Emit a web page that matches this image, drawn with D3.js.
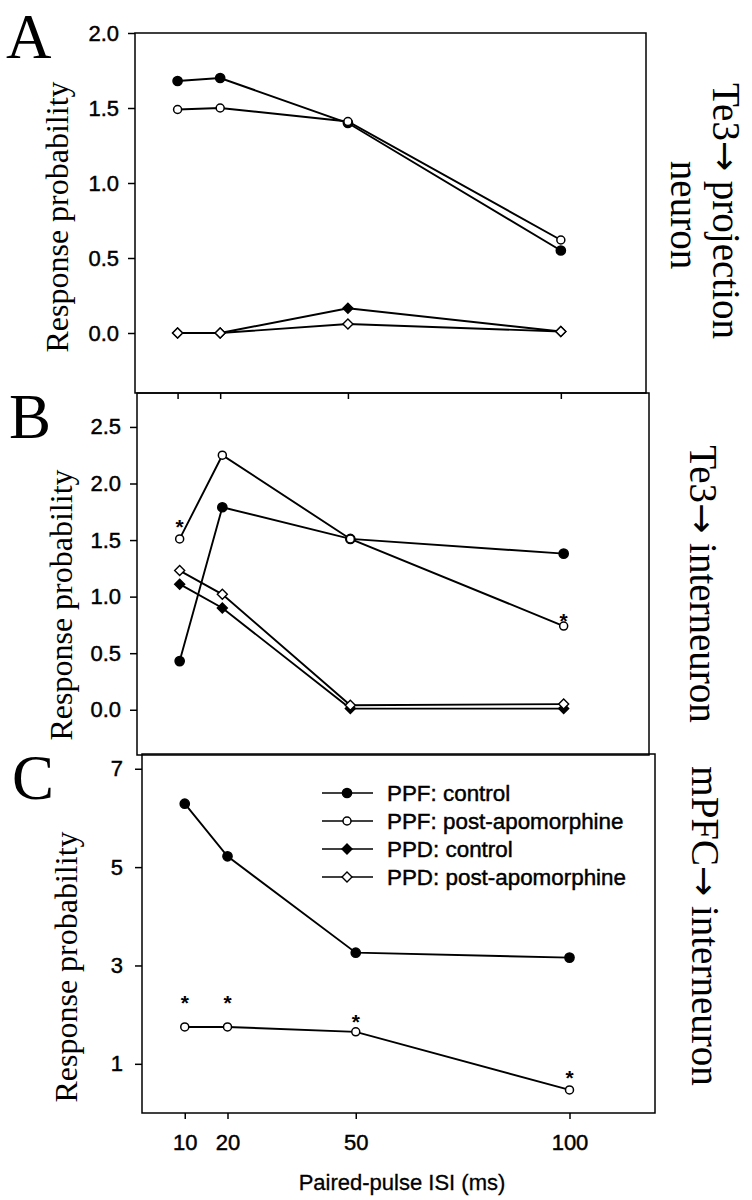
<!DOCTYPE html>
<html>
<head>
<meta charset="utf-8">
<script src="https://cdn.jsdelivr.net/npm/d3@7"></script>
<style>
  html, body { margin: 0; padding: 0; background: #fff; }
  svg { display: block; }
</style>
</head>
<body>
<div id="chart"></div>
<script>
// paired-pulse ISI values (ms)
const isiMs = [10, 20, 50, 100];
const xTickValues = [10, 20, 50, 100];

const seriesNames = [
  "PPF: control",
  "PPF: post-apomorphine",
  "PPD: control",
  "PPD: post-apomorphine",
];
const seriesMarkers = ["dotFilled", "dotOpen", "diamondFilled", "diamondOpen"];

// panel A: Te3 -> projection neuron
const aPpfControl = [1.68, 1.70, 1.40, 0.55];
const aPpfPost = [1.49, 1.50, 1.41, 0.62];
const aPpdControl = [0.00, 0.00, 0.165, 0.01];
const aPpdPost = [0.00, 0.00, 0.06, 0.01];
const aTicks = [0, 0.5, 1.0, 1.5, 2.0];

// panel B: Te3 -> interneuron
const bPpfControl = [0.43, 1.79, 1.51, 1.38];
const bPpfPost = [1.51, 2.25, 1.51, 0.74];
const bPpdControl = [1.11, 0.90, 0.01, 0.01];
const bPpdPost = [1.23, 1.02, 0.04, 0.05];
const bTicks = [0, 0.5, 1.0, 1.5, 2.0, 2.5];
const bStars = [[10, 1.66], [100, 0.83]];

// panel C: mPFC -> interneuron (PPF only)
const cPpfControl = [6.29, 5.22, 3.26, 3.16];
const cPpfPost = [1.75, 1.75, 1.65, 0.47];
const cTicks = [1, 3, 5, 7];
const cStars = [[10, 2.34], [20, 2.34], [50, 1.95], [100, 0.81]];

const SANS = "'Liberation Sans', Arial, sans-serif";
const SERIF = "'Liberation Serif', 'Times New Roman', serif";
const ARROW_FONT = "'DejaVu Sans', sans-serif";

const width = 752;
const height = 1200;

const svg = d3
  .select("#chart")
  .append("svg")
  .attr("width", width)
  .attr("height", height)
  .attr("viewBox", `0 0 ${width} ${height}`);

// scanned figure text is a bit heavier than plain Arial
function sansText(sel, size) {
  return sel
    .style("font-family", SANS)
    .style("font-size", `${size}px`)
    .attr("fill", "#000")
    .attr("stroke", "#000")
    .attr("stroke-width", 0.45);
}

function drawMarker(g, kind, x, y) {
  if (kind === "dotFilled" || kind === "dotOpen") {
    g.append("circle")
      .attr("cx", x)
      .attr("cy", y)
      .attr("r", kind === "dotFilled" ? 4.6 : 4)
      .attr("fill", kind === "dotFilled" ? "#000" : "#fff")
      .attr("stroke", "#000")
      .attr("stroke-width", 1.5);
  } else {
    const s = 5;
    g.append("path")
      .attr("d", `M${x},${y - s}L${x + s},${y}L${x},${y + s}L${x - s},${y}Z`)
      .attr("fill", kind === "diamondFilled" ? "#000" : "#fff")
      .attr("stroke", "#000")
      .attr("stroke-width", 1.4);
  }
}

function drawPanel(cfg) {
  const g = svg.append("g");

  const x = d3.scaleLinear().domain([0, 120]).range([cfg.left, cfg.right]);
  const y = d3.scaleLinear().domain(cfg.yDomain).range([cfg.bottom, cfg.top]);

  // frame
  g.append("rect")
    .attr("x", cfg.left)
    .attr("y", cfg.top)
    .attr("width", cfg.right - cfg.left)
    .attr("height", cfg.bottom - cfg.top)
    .attr("fill", "none")
    .attr("stroke", "#000")
    .attr("stroke-width", 1.5);

  const yAxis = g
    .append("g")
    .attr("transform", `translate(${cfg.left},0)`)
    .call(
      d3.axisLeft(y)
        .tickValues(cfg.yTicks)
        .tickFormat(d3.format(cfg.yFormat))
        .tickSize(7)
        .tickPadding(cfg.tickPad)
    );
  yAxis.select(".domain").remove();
  yAxis.selectAll(".tick line").attr("stroke", "#000").attr("stroke-width", 1.5);
  sansText(yAxis.selectAll(".tick text"), 22);

  if (cfg.xTicks) {
    const xAxis = g
      .append("g")
      .attr("transform", `translate(0,${cfg.bottom})`)
      .call(
        d3.axisBottom(x)
          .tickValues(xTickValues)
          .tickSize(6)
          .tickPadding(15)
          .tickFormat(cfg.xLabels ? d3.format("d") : () => "")
      );
    xAxis.select(".domain").remove();
    xAxis.selectAll(".tick line").attr("stroke", "#000").attr("stroke-width", 1.5);
    sansText(xAxis.selectAll(".tick text"), 22);
  }

  const line = d3
    .line()
    .x((d) => x(d[0]))
    .y((d) => y(d[1]));

  const lineGroup = g.append("g");
  const markGroup = g.append("g");

  cfg.series.forEach((s) => {
    const pts = isiMs.map((v, i) => [v, s.values[i]]);
    lineGroup
      .append("path")
      .attr("d", line(pts))
      .attr("fill", "none")
      .attr("stroke", "#000")
      .attr("stroke-width", 1.9);
  });
  cfg.series.forEach((s) => {
    isiMs.forEach((v, i) => drawMarker(markGroup, s.marker, x(v), y(s.values[i])));
  });

  (cfg.stars || []).forEach(([sx, sy]) => {
    g.append("text")
      .attr("x", x(sx))
      .attr("y", y(sy) + 12)
      .attr("text-anchor", "middle")
      .style("font-family", SANS)
      .style("font-weight", "bold")
      .style("font-size", "21px")
      .text("*");
  });

  // panel letter
  g.append("text")
    .attr("x", cfg.letterX)
    .attr("y", cfg.letterY)
    .style("font-family", SERIF)
    .style("font-size", "63px")
    .text(cfg.letter);

  // y title
  g.append("text")
    .attr("transform", `translate(${cfg.yTitleX},${cfg.yTitleY}) rotate(-90)`)
    .attr("text-anchor", "middle")
    .style("font-family", SERIF)
    .style("font-size", "32px")
    .text("Response probability");

  // side label(s), reading top to bottom; "\u2192" drawn with a wider arrow glyph
  cfg.side.forEach((t) => {
    const te = g.append("text")
      .attr("transform", `translate(${t.x},${t.y}) rotate(90)`)
      .attr("text-anchor", "middle")
      .style("font-family", SERIF)
      .style("font-size", "39px");
    t.text.split(/(\u2192)/).forEach((part) => {
      if (!part) return;
      const sp = te.append("tspan").text(part);
      if (part === "\u2192") sp.style("font-family", ARROW_FONT).style("font-size", "36px");
    });
  });

  return { x, y, g };
}

drawPanel({
  left: 135, right: 646, top: 33, bottom: 393,
  yDomain: [-0.4, 2.0], yTicks: aTicks, yFormat: ".1f", tickPad: 9,
  xTicks: true, xLabels: false,
  series: [aPpfControl, aPpfPost, aPpdControl, aPpdPost].map((v, i) => ({ values: v, marker: seriesMarkers[i] })),
  letter: "A", letterX: 6, letterY: 58,
  yTitleX: 68, yTitleY: 217,
  side: [
    { text: "Te3\u2192 projection", x: 713, y: 211 },
    { text: "neuron", x: 671, y: 215 },
  ],
});

drawPanel({
  left: 137, right: 649, top: 393, bottom: 755,
  yDomain: [-0.4, 2.8], yTicks: bTicks, yFormat: ".1f", tickPad: 9,
  xTicks: false,
  series: [bPpfControl, bPpfPost, bPpdControl, bPpdPost].map((v, i) => ({ values: v, marker: seriesMarkers[i] })),
  stars: bStars,
  letter: "B", letterX: 9, letterY: 438,
  yTitleX: 72, yTitleY: 605,
  side: [{ text: "Te3\u2192 interneuron", x: 690, y: 584 }],
});

const panelC = drawPanel({
  left: 142, right: 655, top: 754, bottom: 1113,
  yDomain: [0, 7.3], yTicks: cTicks, yFormat: "d", tickPad: 12,
  xTicks: true, xLabels: true,
  series: [cPpfControl, cPpfPost].map((v, i) => ({ values: v, marker: seriesMarkers[i] })),
  stars: cStars,
  letter: "C", letterX: 12, letterY: 799,
  yTitleX: 77, yTitleY: 967,
  side: [{ text: "mPFC\u2192 interneuron", x: 692, y: 926 }],
});

// legend inside panel C
const legend = panelC.g.append("g");
seriesNames.forEach((name, i) => {
  const cy = 793 + i * 28;
  legend.append("line")
    .attr("x1", 322).attr("x2", 373)
    .attr("y1", cy).attr("y2", cy)
    .attr("stroke", "#000")
    .attr("stroke-width", 1.6);
  drawMarker(legend, seriesMarkers[i], 347, cy);
  sansText(legend.append("text"), 22.4)
    .attr("x", 387)
    .attr("y", cy + 8)
    .text(name);
});

// x title
sansText(svg.append("text"), 22)
  .attr("x", 402)
  .attr("y", 1190)
  .attr("text-anchor", "middle")
  .attr("stroke-width", 0.3)
  .text("Paired-pulse ISI (ms)");
</script>
</body>
</html>
